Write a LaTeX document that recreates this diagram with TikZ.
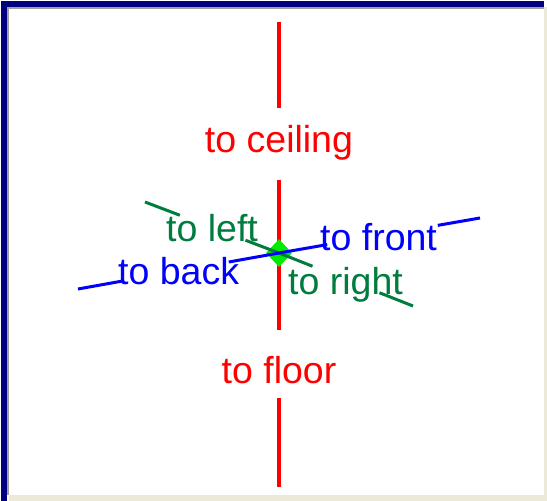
\documentclass[tikz,border=0pt]{standalone}
\usepackage{fontspec}
\setmainfont{Liberation Sans}
\usetikzlibrary{shapes.geometric, positioning, calc}

\definecolor{framenavy}{RGB}{0,0,128}
\definecolor{framegray}{RGB}{160,160,160}
\definecolor{framelight}{RGB}{236,233,216}
\definecolor{axisgreen}{RGB}{0,125,62}
\definecolor{hubgreen}{RGB}{0,235,0}

\begin{document}
\begin{tikzpicture}[
    x=1pt, y=-1pt,
    lbl/.style={inner sep=0pt, font=\fontsize{37.5}{44}\selectfont},
    uplbl/.style={lbl, text=red, anchor=base},
    sidelbl/.style={lbl, text=axisgreen, anchor=base west},
    depthlbl/.style={lbl, text=blue, anchor=base west},
    redline/.style={draw=red, line width=4pt},
    greenline/.style={draw=axisgreen, line width=3pt},
    blueline/.style={draw=blue, line width=3pt}
]

% PANEL
\useasboundingbox (0,0) rectangle (547,501);
\fill[white] (0,0) rectangle (547,501);
\fill[framenavy] (1,1) rectangle (544,7);
\fill[framenavy] (1,1) rectangle (7,501);
\fill[framegray] (7,7) rectangle (544,9);
\fill[framegray] (7,7) rectangle (9,495);
\fill[framelight] (9,495) rectangle (547,501);
\fill[framelight] (544,7) rectangle (547,501);

% VERTICAL AXIS
\node[uplbl, text height=44pt, text depth=28pt] (ceiling) at (279,152) {to ceiling};
\node[uplbl, text height=53pt, text depth=15pt] (floor) at (279,383) {to floor};
\coordinate (up_end) at (279,22);
\coordinate (down_end) at (279,487);

\draw[redline] (up_end) -- (ceiling);
\draw[redline] (ceiling) -- (floor);
\draw[redline] (floor) -- (down_end);

% HUB
\node[diamond, fill=hubgreen, inner sep=0pt, minimum width=26pt, minimum height=28pt] (hub) at (279,253) {};

% LEFT-RIGHT AXIS
\coordinate (left_end) at (145,202);
\coordinate (right_end) at (413,306);
\coordinate (left_a) at ($(left_end)!0.26!(hub.center)$);
\coordinate (left_b) at ($(left_end)!0.75!(hub.center)$);
\coordinate (right_a) at ($(hub.center)!0.25!(right_end)$);
\coordinate (right_b) at ($(hub.center)!0.75!(right_end)$);
\draw[greenline] (left_end) -- (left_a);
\draw[greenline] (left_b) -- (hub.center) -- (right_a);
\draw[greenline] (right_b) -- (right_end);

% BACK-FRONT AXIS
\coordinate (back_end) at (78,289);
\coordinate (front_end) at (480,218);
\coordinate (back_a) at ($(back_end)!0.22!(hub.center)$);
\coordinate (back_b) at ($(back_end)!0.75!(hub.center)$);
\coordinate (front_a) at ($(hub.center)!0.24!(front_end)$);
\coordinate (front_b) at ($(hub.center)!0.79!(front_end)$);
\draw[blueline] (back_end) -- (back_a);
\draw[blueline] (back_b) -- (hub.center) -- (front_a);
\draw[blueline] (front_b) -- (front_end);

% LABELS
\node[sidelbl] (left) at (166,241) {to left};
\node[sidelbl] (right) at (288,294) {to right};
\node[depthlbl] (back) at (118,284) {to back};
\node[depthlbl] (front) at (320,250) {to front};

\end{tikzpicture}
\end{document}
